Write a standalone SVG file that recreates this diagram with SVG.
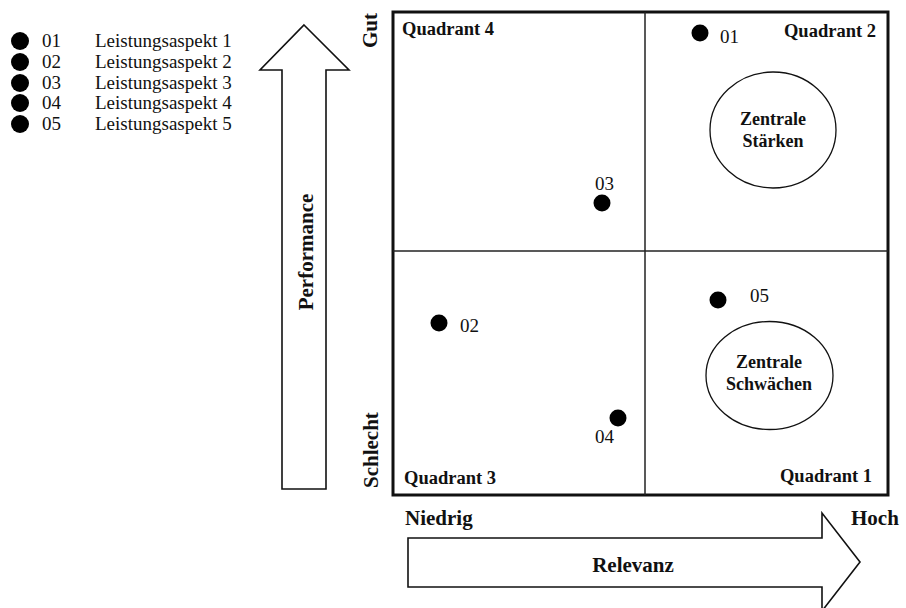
<svg xmlns="http://www.w3.org/2000/svg" width="906" height="608" viewBox="0 0 906 608">
<style>
  text { font-family: "Liberation Serif", "Times New Roman", serif; fill: #111; }
  .b { font-weight: bold; }
  .leg { font-size: 19px; }
  .num { font-size: 19px; }
  .q { font-size: 18.5px; font-weight: bold; }
  .ax { font-size: 21px; font-weight: bold; }
  .zt { font-size: 18px; font-weight: bold; }
  .dot { fill: #000; }
  .outline { fill: #fff; stroke: #111; stroke-width: 1.6; }
</style>
<rect width="906" height="608" fill="#fff"/>

<g id="legend">
  <circle class="dot" cx="20" cy="41" r="9"/>
  <circle class="dot" cx="20" cy="62" r="9"/>
  <circle class="dot" cx="20" cy="83" r="9"/>
  <circle class="dot" cx="20" cy="103" r="9"/>
  <circle class="dot" cx="20" cy="124" r="9"/>
  <text class="leg" x="42" y="47">01</text>
  <text class="leg" x="42" y="68">02</text>
  <text class="leg" x="42" y="89">03</text>
  <text class="leg" x="42" y="109">04</text>
  <text class="leg" x="42" y="130">05</text>
  <text class="leg" x="95" y="47">Leistungsaspekt 1</text>
  <text class="leg" x="95" y="68">Leistungsaspekt 2</text>
  <text class="leg" x="95" y="89">Leistungsaspekt 3</text>
  <text class="leg" x="95" y="109">Leistungsaspekt 4</text>
  <text class="leg" x="95" y="130">Leistungsaspekt 5</text>
</g>

<g id="performance-arrow">
  <polygon class="outline" points="304,25 349,70 326,70 326,489 282,489 282,70 260,70"/>
  <text class="ax" text-anchor="middle" transform="translate(313,252) rotate(-90)">Performance</text>
  <text class="ax" transform="translate(377,48) rotate(-90)">Gut</text>
  <text class="ax" transform="translate(378,488) rotate(-90)">Schlecht</text>
</g>

<g id="relevanz-arrow">
  <polygon class="outline" points="408,538 822,538 822,513 860,562 822,611 822,587 408,587"/>
  <text class="ax" text-anchor="middle" x="633" y="572">Relevanz</text>
  <text class="ax" x="405" y="525">Niedrig</text>
  <text class="ax" x="851" y="525">Hoch</text>
</g>

<g id="matrix">
  <rect x="393" y="12" width="495" height="483" fill="none" stroke="#111" stroke-width="3"/>
  <line x1="645" y1="12" x2="645" y2="495" stroke="#222" stroke-width="1.5"/>
  <line x1="393" y1="251" x2="888" y2="251" stroke="#222" stroke-width="1.5"/>
  <text class="q" x="402" y="35">Quadrant 4</text>
  <text class="q" x="876" y="37" text-anchor="end">Quadrant 2</text>
  <text class="q" x="404" y="484">Quadrant 3</text>
  <text class="q" x="872" y="482" text-anchor="end">Quadrant 1</text>
</g>

<g id="zentrale-staerken">
  <ellipse cx="773" cy="130" rx="63" ry="58" fill="none" stroke="#111" stroke-width="1.3"/>
  <text class="zt" x="773" y="125" text-anchor="middle">Zentrale</text>
  <text class="zt" x="773" y="147" text-anchor="middle">Stärken</text>
</g>

<g id="zentrale-schwaechen">
  <ellipse cx="769.5" cy="375.5" rx="63.5" ry="54" fill="none" stroke="#111" stroke-width="1.3"/>
  <text class="zt" x="769" y="368" text-anchor="middle">Zentrale</text>
  <text class="zt" x="769" y="390" text-anchor="middle">Schwächen</text>
</g>

<g id="p01"><circle class="dot" cx="700" cy="33" r="8.5"/><text class="num" x="720" y="43">01</text></g>
<g id="p02"><circle class="dot" cx="439" cy="323" r="8.5"/><text class="num" x="460" y="332">02</text></g>
<g id="p03"><circle class="dot" cx="602" cy="203" r="8.5"/><text class="num" x="595" y="190">03</text></g>
<g id="p04"><circle class="dot" cx="618" cy="418" r="8.5"/><text class="num" x="595" y="443">04</text></g>
<g id="p05"><circle class="dot" cx="718" cy="300" r="8.5"/><text class="num" x="750" y="302">05</text></g>

<g id="connectors"></g>
</svg>
